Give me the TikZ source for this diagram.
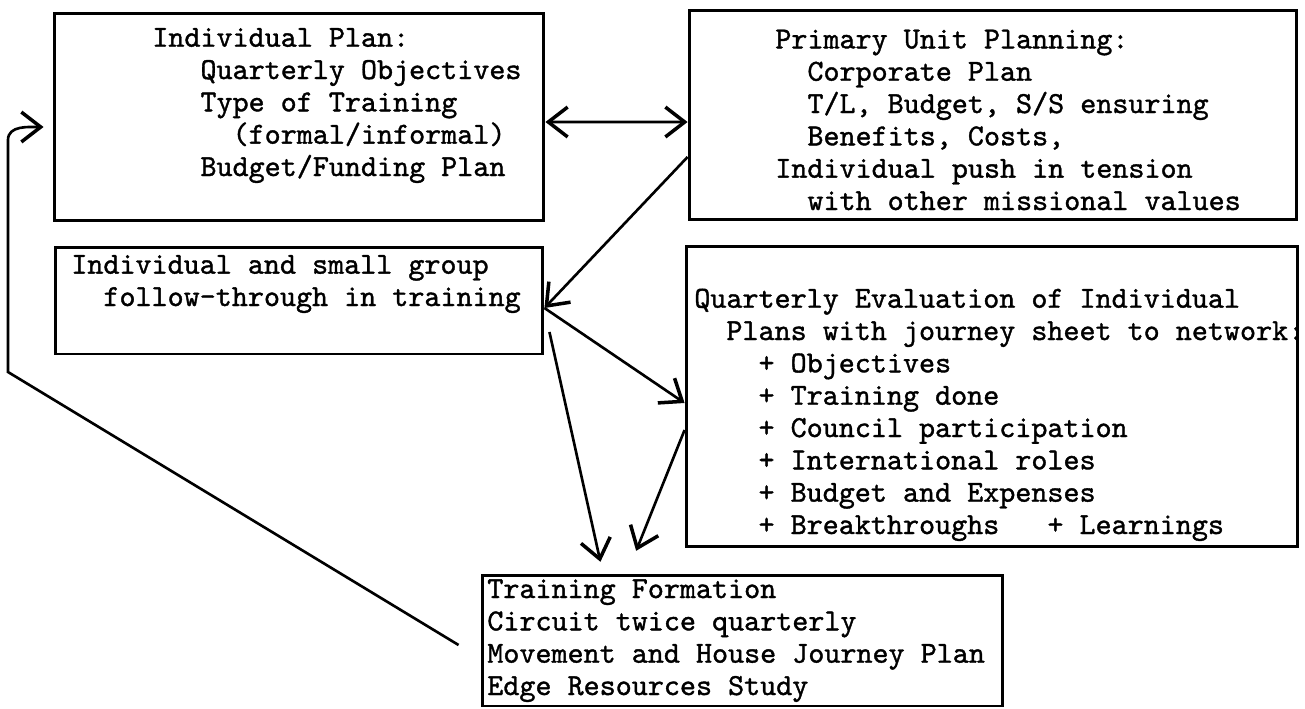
\documentclass[tikz,border=0pt]{standalone}
\usepackage{fontspec}
\usetikzlibrary{arrows.meta}
\newfontfamily\typewriter{lmmono10-regular.otf}[FakeBold=1.2]
\newcommand{\spc}[1]{\hspace*{#1\fontcharwd\font`x}}
\tikzset{
    box text/.style={
        font=\typewriter\fontsize{17.4pt}{18.4pt}\selectfont,
        align=left,
        inner sep=0pt,
        anchor=base west
    }
}

\begin{document}
\begin{tikzpicture}[x=0.02cm, y=-0.02cm, >={Straight Barb[length=11pt, width=17pt, line width=2pt]}]

    \tikzstyle{box} = [
        draw,
        line width=1.7pt,
        inner sep=0pt
    ]
    \tikzstyle{link} = [
        ->,
        line width=1.5pt
    ]

    \useasboundingbox (0,0) rectangle (1305,708);

    % the five boxes
    \node[box, minimum width=9.8cm, minimum height=4.16cm] (plan) at (299,117) {};
    \node[box, minimum width=12.16cm, minimum height=4.2cm] (unit) at (993,115) {};
    \node[box, minimum width=9.76cm, minimum height=2.14cm] (follow) at (299,300.5) {};
    \node[box, minimum width=12.24cm, minimum height=6.02cm] (review) at (992,396.5) {};
    \node[box, minimum width=10.42cm, minimum height=2.62cm] (formation) at (742.5,640.5) {};

    % their texts (placed at the baseline of the last line)
    \node[box text] (plan-txt) at (152,176) {Individual Plan:\\
        \spc{3}Quarterly Objectives\\
        \spc{3}Type of Training\\
        \spc{5}(formal/informal)\\
        \spc{3}Budget/Funding Plan};
    \node[box text] (unit-txt) at (775,210) {Primary Unit Planning:\\
        \spc{2}Corporate Plan\\
        \spc{2}T/L, Budget, S/S ensuring\\
        \spc{2}Benefits, Costs,\\
        Individual push in tension\\
        \spc{2}with other missional values};
    \node[box text] (follow-txt) at (71,306) {Individual and small group\\
        \spc{2}follow-through in training};
    \node[box text] (review-txt) at (694,534) {Quarterly Evaluation of Individual\\
        \spc{2}Plans with journey sheet to network:\\
        \spc{4}+ Objectives\\
        \spc{4}+ Training done\\
        \spc{4}+ Council participation\\
        \spc{4}+ International roles\\
        \spc{4}+ Budget and Expenses\\
        \spc{4}+ Breakthroughs\spc{2} + Learnings};
    \node[box text] (formation-txt) at (487,695) {Training Formation\\
        Circuit twice quarterly\\
        Movement and House Journey Plan\\
        Edge Resources Study};

    % arrows between the boxes
    \path[link]
        ([yshift=-0.1cm]plan.east) edge[<->] ([yshift=-0.14cm]unit.west)
        ([yshift=-0.84cm]unit.west) edge ([yshift=-0.15cm]follow.east)
        ([yshift=-0.15cm]follow.east) edge ([yshift=-0.13cm]review.west)
        ([xshift=0.1cm, yshift=-0.63cm]follow.east) edge[shorten >=0.24cm] ([xshift=-2.79cm]formation.north)
        ([yshift=-0.67cm]review.west) edge[shorten >=0.49cm] ([xshift=-2.31cm]formation.north);

    % way back to the individual plan
    \coordinate (back-corner) at (8,372);
    \coordinate (back-top) at (8,140);
    \draw[link] ([xshift=-0.44cm, yshift=-0.09cm]formation.west) -- (back-corner) -- (back-top)
        to[out=90, in=180] ([xshift=-0.18cm, yshift=-0.2cm]plan.west);

\end{tikzpicture}
\end{document}
